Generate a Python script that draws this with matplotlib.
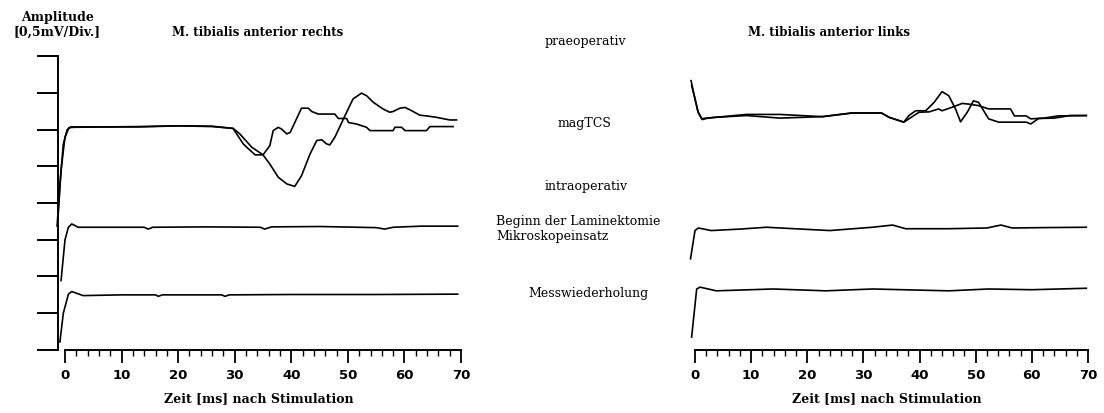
import matplotlib.pyplot as plt
from matplotlib.ticker import MultipleLocator

# time in ms, amplitude in divisions (0,5 mV/Div.)
# left: M. tibialis anterior rechts
r_mag1_t = [-1.4, -0.9, -0.3, 0.4, 1.0, 13, 20, 26, 29.7, 30.9, 33.0, 35.0, 36.2, 37.7, 39.2, 40.6,
            41.8, 43.3, 44.5, 45.4, 46.2, 46.8, 47.7, 49.5, 50.9, 52.4, 53.3, 54.5, 56.2, 57.4, 58.0,
            59.2, 60.1, 61.3, 62.7, 63.9, 65.7, 68.0, 69.2]
r_mag1_a = [3.37, 4.5, 5.6, 6.0, 6.07, 6.07, 6.1, 6.09, 6.03, 5.88, 5.52, 5.31, 5.06, 4.70, 4.52, 4.45,
            4.74, 5.33, 5.70, 5.72, 5.61, 5.58, 5.79, 6.38, 6.83, 6.99, 6.92, 6.74, 6.56, 6.47, 6.49,
            6.58, 6.60, 6.51, 6.39, 6.37, 6.33, 6.26, 6.26]
r_mag2_t = [-1.2, -0.7, 0.0, 0.7, 1.5, 13, 20, 26, 29.7, 31.5, 32.1, 33.6, 35.0, 36.2, 36.8, 37.7,
            38.3, 39.2, 39.8, 41.8, 43.0, 43.6, 44.8, 47.7, 48.3, 49.8, 50.1, 51.5, 53.3, 53.9, 58.0,
            58.3, 59.5, 60.1, 63.9, 64.5, 68.6]
r_mag2_a = [3.7, 4.9, 5.8, 6.05, 6.06, 6.08, 6.1, 6.08, 6.03, 5.61, 5.52, 5.31, 5.31, 5.56, 5.97, 6.06,
            6.01, 5.88, 5.92, 6.58, 6.58, 6.49, 6.42, 6.42, 6.30, 6.30, 6.19, 6.15, 6.06, 5.97, 5.97,
            6.06, 6.06, 5.97, 5.97, 6.08, 6.08]
r_lam_t = [-0.7, 0.0, 0.6, 1.2, 2.3, 8, 14.0, 14.7, 15.5, 25, 34.5, 35.3, 36.5, 45, 55.0, 56.5, 58.0, 63, 69.4]
r_lam_a = [1.89, 3.0, 3.34, 3.43, 3.34, 3.34, 3.34, 3.29, 3.34, 3.35, 3.34, 3.29, 3.35, 3.36, 3.33, 3.29, 3.34, 3.37, 3.37]
r_rep_t = [-0.9, -0.3, 0.6, 1.2, 3.2, 10, 16.0, 16.5, 17.2, 27.7, 28.3, 29.0, 40, 55, 69.4]
r_rep_a = [0.22, 1.0, 1.52, 1.59, 1.48, 1.50, 1.50, 1.46, 1.50, 1.50, 1.46, 1.50, 1.51, 1.51, 1.52]

# right: M. tibialis anterior links
l_mag1_t = [-0.7, -0.2, 0.5, 1.2, 2.0, 3.5, 9.2, 15.1, 22.7, 28.0, 33.2, 34.6, 37.2, 38.1, 39.3, 41.1,
            42.6, 44.0, 45.2, 46.4, 47.3, 48.5, 49.6, 50.5, 52.3, 54.1, 59.0, 59.8, 61.2, 64.0, 66.8, 69.7]
l_mag1_a = [7.33, 6.97, 6.50, 6.29, 6.31, 6.33, 6.41, 6.41, 6.35, 6.45, 6.45, 6.33, 6.20, 6.38, 6.51, 6.51,
            6.74, 7.03, 6.92, 6.56, 6.21, 6.47, 6.78, 6.74, 6.29, 6.20, 6.20, 6.15, 6.30, 6.31, 6.38, 6.38]
l_mag2_t = [-0.6, -0.1, 0.6, 1.3, 2.0, 3.5, 9.2, 15.1, 22.7, 28.0, 33.2, 34.6, 37.2, 38.1, 39.9, 41.7,
            43.4, 44.0, 45.7, 47.6, 48.8, 50.5, 52.3, 56.2, 56.9, 59.0, 59.8, 62.1, 64.7, 69.7]
l_mag2_a = [7.2, 6.9, 6.45, 6.27, 6.30, 6.33, 6.38, 6.31, 6.35, 6.45, 6.45, 6.33, 6.20, 6.29, 6.47, 6.48,
            6.56, 6.51, 6.60, 6.71, 6.69, 6.65, 6.56, 6.56, 6.37, 6.37, 6.29, 6.31, 6.37, 6.38]
l_lam_t = [-0.8, 0.0, 0.6, 2.9, 8.0, 12.7, 24.0, 31.6, 35.2, 37.5, 45, 52.0, 54.5, 56.5, 62, 69.7]
l_lam_a = [2.48, 3.25, 3.32, 3.25, 3.29, 3.34, 3.25, 3.34, 3.40, 3.30, 3.30, 3.32, 3.40, 3.32, 3.33, 3.34]
l_rep_t = [-0.6, 0.3, 0.9, 3.8, 13.9, 23.3, 31.6, 45.2, 52.3, 60, 69.7]
l_rep_a = [0.35, 1.66, 1.71, 1.61, 1.66, 1.61, 1.66, 1.61, 1.66, 1.64, 1.68]

row_labels = ["praeoperativ", "magTCS", "intraoperativ", "Mikroskopeinsatz", "Messwiederholung"]

serif = "DejaVu Serif"

fig = plt.figure(figsize=(11.04, 4.14), dpi=100)
ax_r = fig.add_axes([0.0512, 0.1522, 0.3664, 0.7101])
ax_l = fig.add_axes([0.6219, 0.1522, 0.3636, 0.7101])

for ax in (ax_r, ax_l):
    ax.set_xlim(-1.5, 70)
    ax.set_ylim(0, 8)
    ax.spines["top"].set_visible(False)
    ax.spines["right"].set_visible(False)
    ax.spines["bottom"].set_bounds(0, 70)
    ax.spines["bottom"].set_linewidth(1.4)
    ax.xaxis.set_major_locator(MultipleLocator(10))
    ax.xaxis.set_minor_locator(MultipleLocator(2))
    ax.tick_params(axis="x", which="major", direction="out", length=9, width=1.3, pad=4,
                   labelsize=9.5)
    ax.tick_params(axis="x", which="minor", direction="out", length=4.5, width=1.0)
    for lab in ax.get_xticklabels():
        lab.set_fontweight("bold")
    ax.set_xlabel("Zeit [ms] nach Stimulation", family=serif, fontsize=9, fontweight="bold",
                  labelpad=7)

# left axes has the amplitude scale
ax_r.spines["left"].set_position(("data", -1.25))
ax_r.spines["left"].set_bounds(0, 8)
ax_r.spines["left"].set_linewidth(1.4)
ax_r.yaxis.set_major_locator(MultipleLocator(1))
ax_r.tick_params(axis="y", direction="out", length=15, width=1.4, labelleft=False)

ax_l.spines["left"].set_visible(False)
ax_l.set_yticks([])

lw = 1.2
for t, a in [(r_mag1_t, r_mag1_a), (r_mag2_t, r_mag2_a), (r_lam_t, r_lam_a), (r_rep_t, r_rep_a)]:
    ax_r.plot(t, a, color="black", lw=lw, clip_on=False)
for t, a in [(l_mag1_t, l_mag1_a), (l_mag2_t, l_mag2_a), (l_lam_t, l_lam_a), (l_rep_t, l_rep_a)]:
    ax_l.plot(t, a, color="black", lw=lw, clip_on=False)

# titles and labels
W, H = 1104, 414
fig.text(58 / W, 1 - 17 / H, "Amplitude", family=serif, fontsize=9, fontweight="bold",
         ha="center", va="center")
fig.text(57 / W, 1 - 32 / H, "[0,5mV/Div.]", family=serif, fontsize=9, fontweight="bold",
         ha="center", va="center")
fig.text(258 / W, 1 - 33 / H, "M. tibialis anterior rechts", family=serif, fontsize=8.5,
         fontweight="bold", ha="center", va="center")
fig.text(829 / W, 1 - 33 / H, "M. tibialis anterior links", family=serif, fontsize=8.5,
         fontweight="bold", ha="center", va="center")

fig.text(585 / W, 1 - 42 / H, row_labels[0], family=serif, fontsize=9, ha="center", va="center")
fig.text(585 / W, 1 - 123 / H, row_labels[1], family=serif, fontsize=9, ha="center", va="center")
fig.text(586 / W, 1 - 187 / H, row_labels[2], family=serif, fontsize=9, ha="center", va="center")
fig.text(496 / W, 1 - 222 / H, "Beginn der Laminektomie", family=serif, fontsize=9,
         ha="left", va="center")
fig.text(496 / W, 1 - 237 / H, row_labels[3], family=serif, fontsize=9, ha="left", va="center")
fig.text(588 / W, 1 - 293 / H, row_labels[4], family=serif, fontsize=9, ha="center", va="center")

fig.savefig("out.png", dpi=100)
